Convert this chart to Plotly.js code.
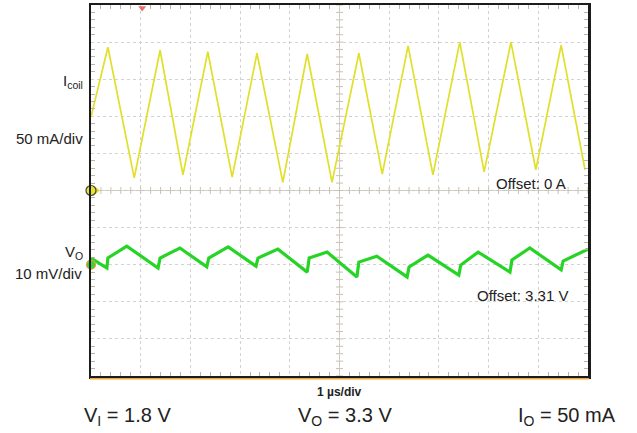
<!DOCTYPE html>
<html>
<head>
<meta charset="utf-8">
<script src="https://cdn.plot.ly/plotly-3.0.1.min.js"></script>
<style>html,body{margin:0;padding:0;background:#fff;}#chart{width:637px;height:433px;}</style>
</head>
<body>
<div id="chart"></div>
<script>
// Time in microseconds (1 µs/div, 10 divisions)
var icoilTime = [0, 0.34, 0.87, 1.39, 1.85, 2.35, 2.84, 3.34, 3.86, 4.35, 4.85, 5.39, 5.86, 6.38, 6.88, 7.42, 7.91, 8.45, 8.95, 9.46, 9.94];
// Coil current in mA (50 mA/div, offset 0 A)
var icoilMA = [99, 193, 17, 189, 21, 187, 18, 185, 11, 184, 11, 185, 22, 195, 21, 200, 25, 200, 28, 196, 28];

// Output voltage ripple in mV relative to the 3.31 V offset (10 mV/div)
var voTime = [0, 0.14, 0.32, 0.34, 0.72, 1.35, 1.39, 1.79, 2.33, 2.37, 2.76, 3.32, 3.36, 3.76, 4.35, 4.39, 4.75, 5.35, 5.39, 5.75, 6.36, 6.40, 6.78, 7.40, 7.44, 7.79, 8.43, 8.47, 8.83, 9.46, 9.50, 10.0];
var voMV = [1.8, 0.6, -0.9, 1.8, 5.0, -0.9, 1.8, 4.5, -0.6, 1.8, 4.8, -0.4, 1.8, 4.2, -2.0, 1.8, 3.4, -3.3, 0.7, 2.3, -3.3, -0.6, 2.6, -2.8, -0.1, 3.4, -2.0, 1.3, 4.5, -1.4, 1.0, 4.2];

var labels = {
  icoil: 'I<sub>coil</sub>',
  iscale: '50 mA/div',
  ioffset: 'Offset: 0 A',
  vo: 'V<sub>O</sub>',
  vscale: '10 mV/div',
  voffset: 'Offset: 3.31 V',
  tscale: '<b>1 µs/div</b>',
  vin: 'V<sub>I</sub> = 1.8 V',
  vout: 'V<sub>O</sub> = 3.3 V',
  iout: 'I<sub>O</sub> = 50 mA'
};

// graticule helpers (center-line tick marks)
var hTicksX = [], hTicksY = [], vTicksX = [], vTicksY = [];
for (var k = 0; k <= 50; k++) { hTicksX.push(k * 0.2); hTicksY.push(0); }
for (var k = 0; k <= 50; k++) { vTicksX.push(5); vTicksY.push(-250 + k * 10); }

var font = 'Arial, "Liberation Sans", sans-serif';
var grat = '#c9c2b2';
var traces = [
  {x: hTicksX, y: hTicksY, mode: 'markers', hoverinfo: 'skip', showlegend: false,
   marker: {symbol: 'line-ns-open', size: 5, color: grat, line: {width: 1, color: grat}}},
  {x: vTicksX, y: vTicksY, mode: 'markers', hoverinfo: 'skip', showlegend: false,
   marker: {symbol: 'line-ew-open', size: 5, color: grat, line: {width: 1, color: grat}}},
  {x: icoilTime, y: icoilMA, mode: 'lines', name: 'Icoil', showlegend: false,
   line: {color: 'rgb(224,224,42)', width: 1.7}},
  {x: voTime, y: voMV, yaxis: 'y2', mode: 'lines', name: 'VO', showlegend: false,
   line: {color: 'rgb(38,212,38)', width: 3.2}},
  // channel reference markers
  {x: [0.12], y: [0], mode: 'markers', hoverinfo: 'skip', showlegend: false, cliponaxis: false,
   marker: {symbol: 'triangle-right', size: 6, color: 'rgb(224,224,42)'}},
  {x: [0], y: [0], mode: 'markers', hoverinfo: 'skip', showlegend: false, cliponaxis: false,
   marker: {symbol: 'circle', size: 10, color: 'rgb(230,230,40)', line: {width: 1.2, color: '#444'}}},
  {x: [0], y: [0], yaxis: 'y2', mode: 'markers', hoverinfo: 'skip', showlegend: false, cliponaxis: false,
   marker: {symbol: 'circle', size: 9, color: 'rgb(60,210,60)', line: {width: 1.2, color: '#e0a040'}}},
  {x: [1.03], y: [246], mode: 'markers', hoverinfo: 'skip', showlegend: false, cliponaxis: false,
   marker: {symbol: 'triangle-down', size: 7, color: 'rgb(232,110,110)'}}
];

function ann(text, x, y, xa, size, extra) {
  var a = {text: text, xref: 'paper', yref: 'paper', x: x, y: y, xanchor: xa, yanchor: 'middle',
           showarrow: false, font: {family: font, size: size, color: '#222'}};
  for (var k in extra) a[k] = extra[k];
  return a;
}

var layout = {
  width: 637, height: 433,
  margin: {l: 91, r: 49, t: 5, b: 57},
  paper_bgcolor: '#fff', plot_bgcolor: '#fff',
  showlegend: false,
  xaxis: {range: [0, 10], dtick: 1, showticklabels: false, zeroline: false,
          showgrid: true, gridcolor: '#d2d2d2', griddash: 'dot', gridwidth: 1,
          ticks: '', showline: true, linecolor: '#1c1c1c', linewidth: 2.5, mirror: 'allticks',
          minor: {dtick: 0.2, ticks: 'inside', ticklen: 4, tickcolor: '#bdb6a8', showgrid: false}},
  yaxis: {range: [-250, 250], dtick: 50, showticklabels: false, zeroline: false,
          showgrid: true, gridcolor: '#d2d2d2', griddash: 'dot', gridwidth: 1,
          ticks: '', showline: true, linecolor: '#1c1c1c', linewidth: 2.5, mirror: 'allticks',
          minor: {dtick: 10, ticks: 'inside', ticklen: 4, tickcolor: '#bdb6a8', showgrid: false}},
  yaxis2: {range: [-30, 70], overlaying: 'y', visible: false},
  shapes: [
    {type: 'line', xref: 'x', yref: 'y', x0: 0, x1: 10, y0: 0, y1: 0, line: {color: '#cdc6b6', width: 1}, layer: 'below'},
    {type: 'line', xref: 'x', yref: 'y', x0: 5, x1: 5, y0: -250, y1: 250, line: {color: '#cdc6b6', width: 1}, layer: 'below'},
    {type: 'line', xref: 'paper', yref: 'paper', x0: -0.002, x1: 1.002, y0: -0.0075, y1: -0.0075, line: {color: '#f0a838', width: 1.5}}
  ],
  annotations: [
    ann(labels.icoil, -0.013, 0.793, 'right', 15),
    ann(labels.iscale, -0.013, 0.6415, 'right', 15),
    ann(labels.ioffset, 0.810, 0.520, 'left', 15),
    ann(labels.vo, -0.013, 0.334, 'right', 15),
    ann(labels.vscale, -0.015, 0.2776, 'right', 15),
    ann(labels.voffset, 0.772, 0.2183, 'left', 15),
    ann(labels.tscale, 0.499, -0.0431, 'center', 12),
    ann(labels.vin, -0.019, -0.108, 'left', 20),
    ann(labels.vout, 0.413, -0.108, 'left', 20),
    ann(labels.iout, 0.856, -0.108, 'left', 20)
  ]
};

Plotly.newPlot('chart', traces, layout, {staticPlot: true, displayModeBar: false});
</script>
</body>
</html>
